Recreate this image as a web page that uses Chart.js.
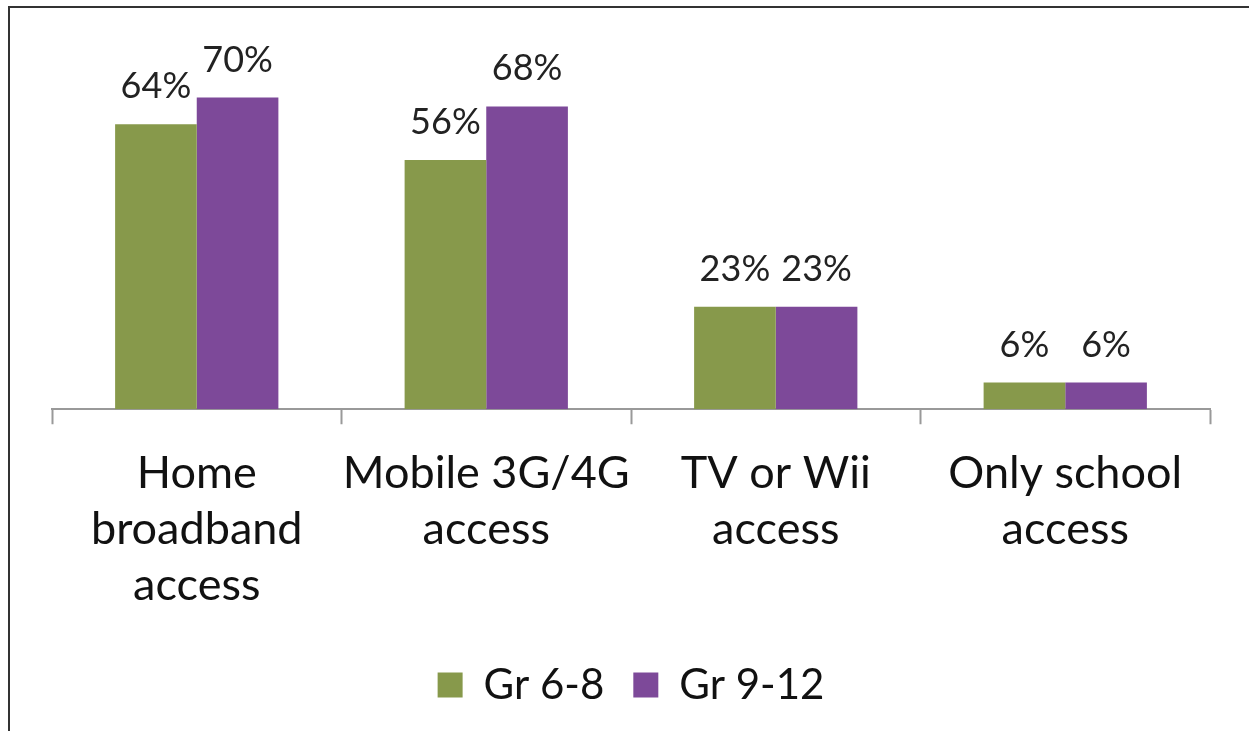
<!DOCTYPE html>
<html lang="en">
<head>
  <meta charset="UTF-8">
  <title>Internet access by grade</title>
  <style>
    body {
      margin: 0;
      background: #fff;
      font-family: Lato, Arial, sans-serif;
      overflow: hidden;
    }
    .frame {
      position: absolute;
      left: 8px;
      top: 6px;
      width: 1300px;
      height: 800px;
      border-left: 2px solid #333;
      border-top: 2px solid #333;
    }
    #wrap {
      position: absolute;
      left: 0;
      top: 0;
      width: 1249px;
      height: 731px;
    }
  </style>
</head>
<body>
  <div class="frame"></div>
  <div id="wrap"><canvas id="chart"></canvas></div>

  <script src="https://cdn.jsdelivr.net/npm/chart.js"></script>
  <script>
    const categories = [
      ['Home', 'broadband', 'access'],
      ['Mobile 3G/4G', 'access'],
      ['TV or Wii', 'access'],
      ['Only school', 'access']
    ];
    const gr68 = [64, 56, 23, 6];
    const gr912 = [70, 68, 23, 6];

    // draws the "64%" style labels above each bar
    const valueLabels = {
      id: 'valueLabels',
      afterDatasetsDraw(chart) {
        const ctx = chart.ctx;
        ctx.save();
        ctx.font = '36px Lato';
        ctx.fillStyle = '#222';
        ctx.textAlign = 'center';
        ctx.textBaseline = 'alphabetic';
        chart.data.datasets.forEach((ds, i) => {
          chart.getDatasetMeta(i).data.forEach((bar, j) => {
            ctx.fillText(ds.data[j] + '%', bar.x, bar.y - 26);
          });
        });
        ctx.restore();
      }
    };

    new Chart(document.getElementById('chart'), {
      type: 'bar',
      data: {
        labels: categories,
        datasets: [
          { label: 'Gr 6-8', data: gr68, backgroundColor: '#87994B' },
          { label: 'Gr 9-12', data: gr912, backgroundColor: '#7D4999' }
        ]
      },
      options: {
        responsive: true,
        maintainAspectRatio: false,
        animation: false,
        layout: { padding: { left: 52, right: 39, top: 53, bottom: 15 } },
        datasets: {
          bar: { barPercentage: 1, categoryPercentage: 0.564 }
        },
        scales: {
          x: {
            grid: {
              display: true,
              drawOnChartArea: false,
              drawTicks: true,
              tickLength: 15,
              tickWidth: 2,
              color: '#999'
            },
            border: { display: true, color: '#999', width: 2 },
            ticks: {
              color: '#111',
              padding: 21,
              maxRotation: 0,
              autoSkip: false,
              font: { family: 'Lato', size: 45, lineHeight: 1.25 }
            }
          },
          y: {
            display: false,
            min: 0,
            max: 80
          }
        },
        plugins: {
          legend: {
            position: 'bottom',
            labels: {
              boxWidth: 25,
              boxHeight: 25,
              padding: 29,
              color: '#111',
              font: { family: 'Lato', size: 42 }
            }
          },
          tooltip: { enabled: false }
        }
      },
      plugins: [valueLabels]
    });
  </script>
</body>
</html>
